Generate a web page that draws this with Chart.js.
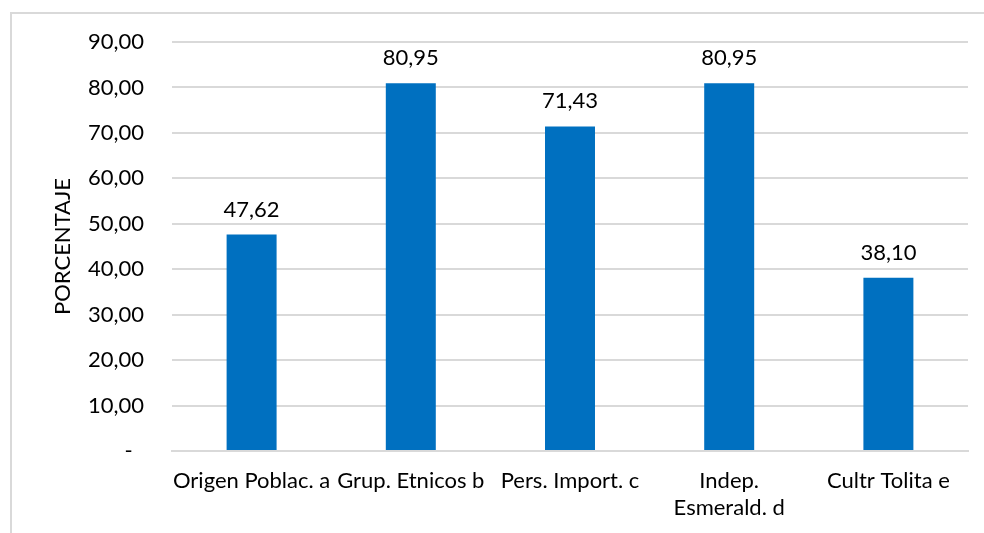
<!DOCTYPE html>
<html>
<head>
<meta charset="utf-8">
<script src="https://cdn.jsdelivr.net/npm/chart.js@4.4.1/dist/chart.umd.min.js"></script>
<style>
  html, body { margin: 0; padding: 0; background: #fff; overflow: hidden; }
  #wrap { position: relative; width: 984px; height: 533px; }
  #frame { position: absolute; left: 10px; top: 12px; width: 1100px; height: 700px;
           border: 2px solid #d9d9d9; box-sizing: border-box; }
  canvas { position: absolute; left: 0; top: 0; }
</style>
</head>
<body>
<div id="wrap">
  <div id="frame"></div>
  <canvas id="c" width="984" height="533"></canvas>
</div>
<script>
const categories = ['Origen Poblac. a', 'Grup. Etnicos b', 'Pers. Import. c', ['Indep.', 'Esmerald. d'], 'Cultr Tolita e'];
const percentages = [47.62, 80.95, 71.43, 80.95, 38.10];
const yTickLabels = ['-  ', '10,00', '20,00', '30,00', '40,00', '50,00', '60,00', '70,00', '80,00', '90,00'];
const axisTitle = 'PORCENTAJE';

const FONT = 'Lato, "Open Sans", sans-serif';
const SIZE = 22;
const fmt = v => v.toFixed(2).replace('.', ',');

// value labels centred just above each bar
const valueLabels = {
  id: 'valueLabels',
  afterDatasetsDraw(chart) {
    const ctx = chart.ctx;
    const meta = chart.getDatasetMeta(0);
    ctx.save();
    ctx.font = SIZE + 'px ' + FONT;
    ctx.fillStyle = '#000';
    ctx.textAlign = 'center';
    ctx.textBaseline = 'middle';
    meta.data.forEach((bar, i) => {
      ctx.fillText(fmt(percentages[i]), bar.x, bar.y - 25);
    });
    ctx.restore();
  }
};

new Chart(document.getElementById('c'), {
  type: 'bar',
  data: {
    labels: categories,
    datasets: [{
      data: percentages,
      backgroundColor: '#0070C0',
      barPercentage: 0.314,
      categoryPercentage: 1.0
    }]
  },
  options: {
    responsive: false,
    animation: false,
    layout: { padding: { top: 42, right: 16, bottom: 0, left: 0 } },
    plugins: { legend: { display: false }, tooltip: { enabled: false } },
    scales: {
      x: {
        grid: { display: false, drawTicks: false },
        border: { display: true, color: '#d9d9d9', width: 2 },
        ticks: { color: '#000', font: { family: FONT, size: SIZE, lineHeight: 1.23 }, padding: 16, maxRotation: 0, autoSkip: false },
        afterFit(s) { s.height = 82; }
      },
      y: {
        min: 0, max: 90,
        grid: { color: '#d9d9d9', lineWidth: 2, drawTicks: false },
        border: { display: false },
        ticks: {
          stepSize: 10,
          color: '#000',
          font: { family: FONT, size: SIZE },
          padding: 28,
          callback: (v) => yTickLabels[Math.round(v / 10)]
        },
        title: {
          display: true, text: axisTitle, color: '#000',
          font: { family: FONT, size: SIZE },
          padding: { top: 50, bottom: 0 }
        },
        afterFit(s) { s.width = 172; }
      }
    }
  },
  plugins: [valueLabels]
});
</script>
</body>
</html>
